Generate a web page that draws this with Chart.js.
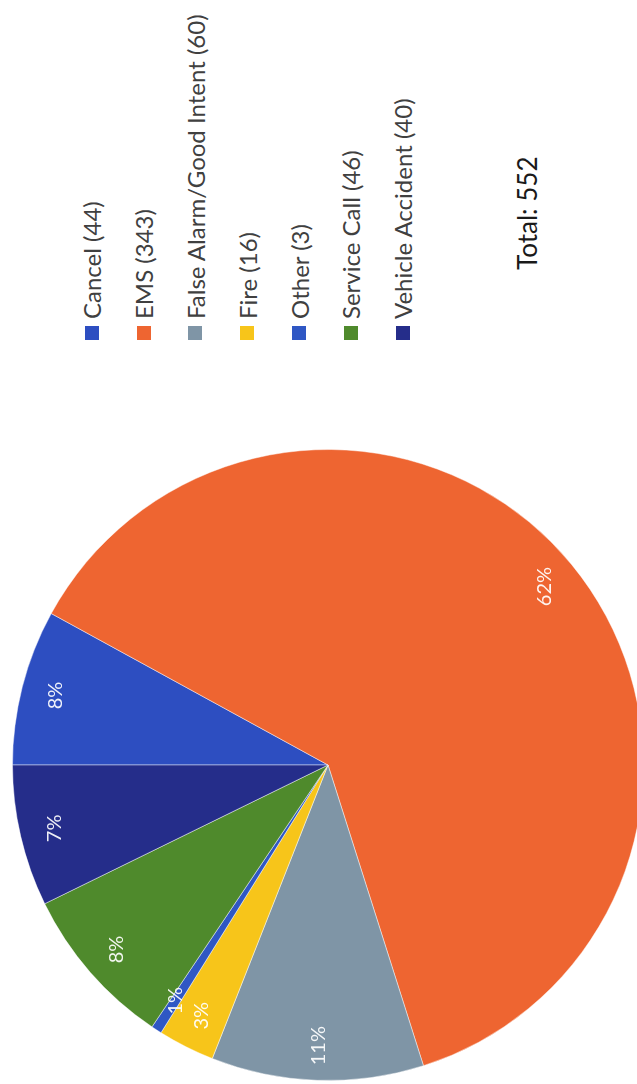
<!DOCTYPE html>
<html>
<head>
<meta charset="utf-8">
<title>Incident Types</title>
<script src="https://cdn.jsdelivr.net/npm/chart.js@4.4.1/dist/chart.umd.min.js"></script>
<style>
  html, body { margin: 0; padding: 0; background: #fff; overflow: hidden; width: 637px; height: 1084px; }
  /* the sheet is laid out landscape and turned a quarter turn to the left */
  #sheet {
    position: absolute; left: 0; top: 0;
    width: 1084px; height: 656px;
    transform-origin: 0 0;
    transform: translateY(1084px) rotate(-90deg);
    font-family: Lato, "Noto Sans", sans-serif;
  }
  #pieBox { position: absolute; left: 0; top: 0; width: 638px; height: 656px; }
  #legend { position: absolute; left: 744px; top: 66px; margin: 0; padding: 0; list-style: none; }
  #legend li { height: 51.8px; display: flex; align-items: center; font-size: 24px; color: #404040; white-space: nowrap; }
  #legend .sw { width: 14px; height: 14px; margin-right: 7px; flex: none; }
  #total { position: absolute; left: 814px; top: 511px; font-size: 26px; color: #1a1a1a; }
</style>
</head>
<body>
<div id="sheet">
  <div id="pieBox"><canvas id="myChart"></canvas></div>
  <ul id="legend"></ul>
  <div id="total"></div>
</div>
<script>
let categories = ['Cancel', 'EMS', 'False Alarm/Good Intent', 'Fire', 'Other', 'Service Call', 'Vehicle Accident'];
let counts = [44, 343, 60, 16, 3, 46, 40];
let colorHex = ['#2D4EC1', '#EE6531', '#7F95A6', '#F7C51A', '#2F57C4', '#4F8A2C', '#252D8A'];

let total = counts.reduce((a, b) => a + b, 0);

// percentage labels sitting near the rim of each slice
const pctLabels = {
    id: 'pctLabels',
    afterDatasetsDraw(chart) {
        const ctx = chart.ctx;
        const meta = chart.getDatasetMeta(0);
        const data = chart.data.datasets[0].data;
        ctx.save();
        ctx.font = '20px Lato';
        ctx.fillStyle = 'rgba(255,255,255,0.92)';
        ctx.textAlign = 'center';
        ctx.textBaseline = 'middle';
        meta.data.forEach((arc, i) => {
            const p = arc.getProps(['x', 'y', 'startAngle', 'endAngle', 'outerRadius'], true);
            const a = (p.startAngle + p.endAngle) / 2;
            const r = p.outerRadius * 0.89;
            ctx.fillText(Math.round(data[i] / total * 100) + '%', p.x + Math.cos(a) * r, p.y + Math.sin(a) * r);
        });
        ctx.restore();
    }
};

let ctx = document.getElementById('myChart').getContext('2d');
let myChart = new Chart(ctx, {
    type: 'pie',
    data: {
        labels: categories,
        datasets: [{
            data: counts,
            backgroundColor: colorHex,
            borderColor: 'rgba(255,255,255,0.45)',
            borderWidth: 1
        }]
    },
    options: {
        responsive: true,
        maintainAspectRatio: false,
        animation: false,
        layout: {
            padding: { left: 3, right: 3, top: 12, bottom: 12 }
        },
        plugins: {
            legend: { display: false },
            tooltip: { enabled: false }
        }
    },
    plugins: [pctLabels]
});

// legend list on the side
let legendEl = document.getElementById('legend');
categories.forEach((name, i) => {
    let li = document.createElement('li');
    let sw = document.createElement('span');
    sw.className = 'sw';
    sw.style.background = colorHex[i];
    li.appendChild(sw);
    li.appendChild(document.createTextNode(name + ' (' + counts[i] + ')'));
    legendEl.appendChild(li);
});

document.getElementById('total').textContent = 'Total: ' + total;
</script>
</body>
</html>
